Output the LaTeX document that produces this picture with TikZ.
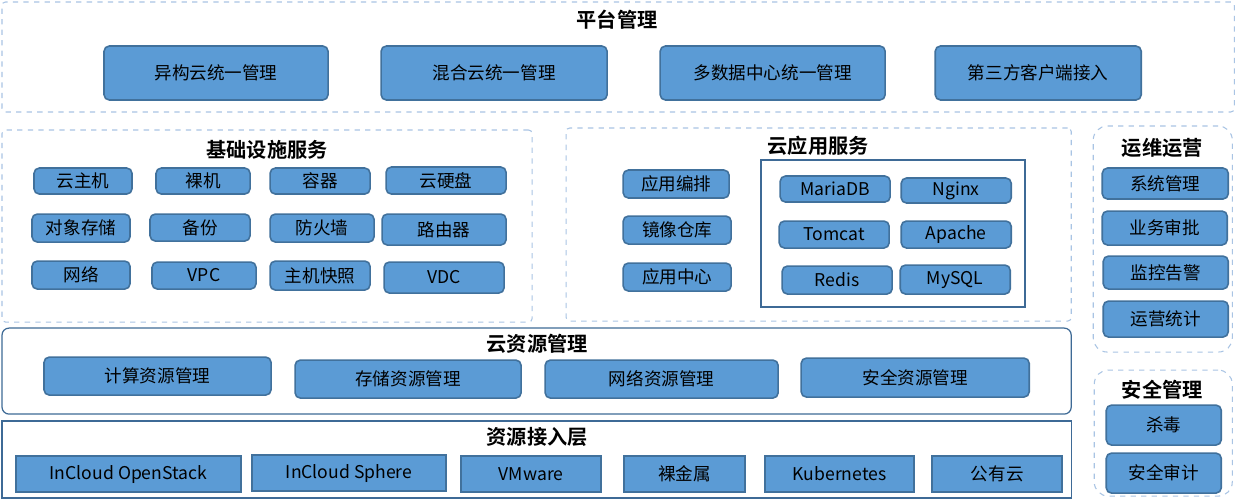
\documentclass[tikz,border=0pt]{standalone}
\usepackage{fontspec}
\setmainfont{Noto Sans CJK SC}[BoldFont=* Bold]
\definecolor{bfill}{HTML}{5B9BD5}
\definecolor{bdraw}{HTML}{41719C}
\definecolor{dashc}{HTML}{A9C4E4}
\definecolor{framec}{HTML}{3E6A96}
\tikzset{
 box/.style={draw=bdraw,fill=bfill,line width=0.9pt,rounded corners=3pt,inner sep=0pt,font=\fontsize{10}{12}\selectfont,text=black},
 sqbox/.style={box,rounded corners=0pt},
 dframe/.style={draw=dashc,dashed,line width=0.6pt,rounded corners=2pt},
 dframer/.style={draw=dashc,dashed,line width=0.6pt,rounded corners=8pt},
 sframe/.style={draw=framec,line width=0.7pt},
 ttl/.style={font=\bfseries\fontsize{11.5}{13}\selectfont,inner sep=0pt},
}
\newcommand\bx[7][box]{\node[#1,minimum width={(#5-#3)*0.02cm},minimum height={(#6-#4)*0.02cm}] (#2) at ({(#3+#5)/2*0.02},{-(#4+#6)/2*0.02}) {#7};}
\newcommand\fr[6]{\node[#2,inner sep=0pt,minimum width={(#5-#3)*0.02cm},minimum height={(#6-#4)*0.02cm}] (#1) at ({(#3+#5)/2*0.02},{-(#4+#6)/2*0.02}) {};}
\newcommand\tl[4]{\node[ttl] (#1) at ({#2*0.02},{-#3*0.02}) {#4};}
\begin{document}
\begin{tikzpicture}
\path[fill=white,use as bounding box] (0,0) rectangle (24.72,-10);
% platform
\fr{plat}{dframe}{2}{2}{1234}{112}
\tl{platt}{617}{20}{平台管理}
\bx{p1}{104}{46}{328}{100}{异构云统一管理}
\bx{p2}{381}{46}{607}{100}{混合云统一管理}
\bx{p3}{660}{46}{885}{100}{多数据中心统一管理}
\bx{p4}{935}{46}{1141}{100}{第三方客户端接入}
% infra
\fr{infra}{dframe}{2}{130}{532}{322}
\tl{infrat}{267}{150}{基础设施服务}
\bx{i1}{34}{168}{132}{194}{云主机}
\bx{i2}{156}{168}{250}{194}{裸机}
\bx{i3}{270}{168}{370}{194}{容器}
\bx{i4}{386}{167}{506}{194}{云硬盘}
\bx{i5}{32}{214}{130}{242}{对象存储}
\bx{i6}{150}{214}{250}{241}{备份}
\bx{i7}{270}{214}{374}{242}{防火墙}
\bx{i8}{382}{214}{506}{245}{路由器}
\bx{i9}{32}{261}{130}{289}{网络}
\bx{i10}{152}{262}{256}{289}{VPC}
\bx{i11}{270}{261}{370}{290}{主机快照}
\bx{i12}{384}{262}{504}{293}{VDC}
% cloud app
\fr{app}{dframe}{566}{128}{1071}{321}
\tl{appt}{818}{146}{云应用服务}
\bx{a1}{623}{170}{729}{198}{应用编排}
\bx{a2}{623}{216}{731}{244}{镜像仓库}
\bx{a3}{623}{263}{731}{291}{应用中心}
\fr{inner}{draw=framec,line width=1.4pt}{761}{160}{1025}{307}
\bx{m1}{780}{176}{890}{202}{MariaDB}
\bx{m2}{901}{178}{1011}{203}{Nginx}
\bx{m3}{779}{221}{889}{248}{Tomcat}
\bx{m4}{901}{221}{1011}{248}{Apache}
\bx{m5}{782}{266}{892}{294}{Redis}
\bx{m6}{900}{265}{1010}{294}{MySQL}
% ops
\fr{ops}{dframer}{1093}{126}{1232}{352}
\tl{opst}{1162}{148}{运维运营}
\bx{o1}{1102}{168}{1228}{199}{系统管理}
\bx{o2}{1102}{211}{1227}{245}{业务审批}
\bx{o3}{1103}{256}{1228}{289}{监控告警}
\bx{o4}{1103}{301}{1228}{337}{运营统计}
% security
\fr{sec}{dframer}{1094}{370}{1232}{496}
\tl{sect}{1162}{390}{安全管理}
\bx{s1}{1106}{405}{1221}{445}{杀毒}
\bx{s2}{1106}{453}{1221}{493}{安全审计}
% cloud resource mgmt
\fr{crm}{sframe,rounded corners=4pt}{2}{328}{1071}{414}
\tl{crmt}{537}{344}{云资源管理}
\bx{c1}{44}{357}{271}{395}{计算资源管理}
\bx{c2}{295}{360}{521}{398}{存储资源管理}
\bx{c3}{545}{360}{778}{398}{网络资源管理}
\bx{c4}{801}{358}{1029}{397}{安全资源管理}
% resource access
\fr{ra}{sframe}{2}{421}{1071}{498}
\tl{rat}{537}{437}{资源接入层}
\bx[sqbox]{r1}{16}{456}{241}{492}{InCloud OpenStack}
\bx[sqbox]{r2}{252}{455}{446}{491}{InCloud Sphere}
\bx[sqbox]{r3}{461}{456}{601}{492}{VMware}
\bx[sqbox]{r4}{624}{456}{745}{492}{裸金属}
\bx[sqbox]{r5}{765}{456}{914}{492}{Kubernetes}
\bx[sqbox]{r6}{932}{456}{1062}{492}{公有云}
\end{tikzpicture}
\end{document}
